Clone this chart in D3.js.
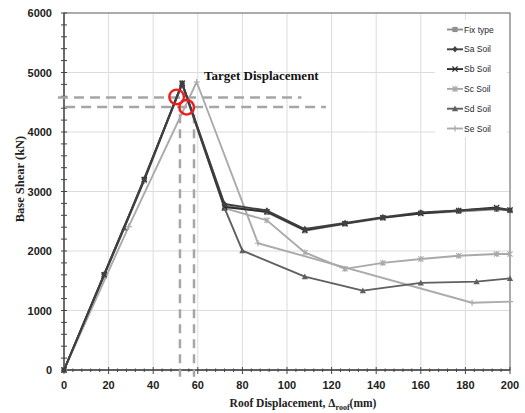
<!DOCTYPE html>
<html><head><meta charset="utf-8">
<script src="https://cdn.jsdelivr.net/npm/d3@7"></script>
<style>body{margin:0;background:#fff}svg{display:block}</style>
</head><body>
<svg id="c" width="525" height="413"></svg>
<script>
// ---- data ----
const seriesNames = ["Fix type","Sa Soil","Sb Soil","Sc Soil","Sd Soil","Se Soil"];
const fixType = [[0,0],[18,1600],[36,3200],[53,4820],[72,2760],[91,2650],[108,2340],[126,2455],[143,2555],[160,2635],[177,2665],[194,2700],[200,2680]];
const saSoil  = [[0,0],[18,1610],[36,3210],[53,4820],[72,2790],[91,2680],[108,2370],[126,2470],[143,2570],[160,2650],[177,2680],[194,2715],[200,2685]];
const sbSoil  = [[0,0],[18,1600],[36,3200],[53,4820],[72,2740],[91,2660],[108,2350],[126,2460],[143,2560],[160,2630],[177,2680],[194,2730],[200,2690]];
const scSoil  = [[0,0],[18,1580],[36,3180],[53,4810],[72,2720],[91,2515],[108,1975],[126,1700],[143,1800],[160,1865],[177,1920],[194,1950],[200,1950]];
const sdSoil  = [[0,0],[27,2390],[53,4800],[72,2720],[80,2005],[108,1570],[134,1335],[160,1465],[185,1485],[200,1540]];
const seSoil  = [[0,0],[29,2410],[59.5,4840],[87,2130],[183,1130],[200,1150]];
const xTicks = [0,20,40,60,80,100,120,140,160,180,200];
const yTicks = [0,1000,2000,3000,4000,5000,6000];
const targetShear = [4580,4420];
const targetDisp = [52,58.3];
const circlePts = [[50.5,4590],[55,4415]];

// ---- layout ----
const svg = d3.select("#c");
const x = d3.scaleLinear().domain([0,200]).range([64,510]);
const y = d3.scaleLinear().domain([0,6000]).range([370,13]);

const styles = [
  {data:fixType, color:"#8f8f8f", sym:"square"},
  {data:saSoil,  color:"#404040", sym:"diamond"},
  {data:sbSoil,  color:"#2e2e2e", sym:"cross"},
  {data:scSoil,  color:"#a9a9a9", sym:"aster"},
  {data:sdSoil,  color:"#606060", sym:"triangle"},
  {data:seSoil,  color:"#ababab", sym:"plus"}
];

// grid
svg.append("g").selectAll("line").data(xTicks.slice(1)).join("line")
  .attr("x1",d=>x(d)).attr("x2",d=>x(d)).attr("y1",y(0)).attr("y2",y(6000))
  .attr("stroke","#dcdcdc").attr("stroke-width",1);
svg.append("g").selectAll("line").data(yTicks.slice(1)).join("line")
  .attr("x1",x(0)).attr("x2",x(200)).attr("y1",d=>y(d)).attr("y2",d=>y(d))
  .attr("stroke","#dcdcdc").attr("stroke-width",1);

// frame
svg.append("rect").attr("x",x(0)).attr("y",y(6000)).attr("width",x(200)-x(0)).attr("height",y(0)-y(6000))
  .attr("fill","none").attr("stroke","#6a6a6a").attr("stroke-width",1);

// legend background (covers grid)
svg.append("rect").attr("x",435).attr("y",20).attr("width",72).attr("height",117).attr("fill","#fff");

// axes ticks
const yMinor = d3.range(0,6001,200);
svg.append("g").selectAll("line").data(yMinor).join("line")
  .attr("x1",x(0)-3).attr("x2",x(0)+3).attr("y1",d=>y(d)).attr("y2",d=>y(d))
  .attr("stroke","#444").attr("stroke-width",1);
const xMinor = d3.range(0,201,4);
svg.append("g").selectAll("line").data(xMinor).join("line")
  .attr("x1",d=>x(d)).attr("x2",d=>x(d)).attr("y1",d=>y(0)-(d%20===0?3:1.5)).attr("y2",d=>y(0)+(d%20===0?4:2))
  .attr("stroke","#444").attr("stroke-width",1);
svg.append("line").attr("x1",x(0)).attr("x2",x(0)).attr("y1",y(0)).attr("y2",y(6000)).attr("stroke","#444").attr("stroke-width",1.3);
svg.append("line").attr("x1",x(0)).attr("x2",x(200)).attr("y1",y(0)).attr("y2",y(0)).attr("stroke","#444").attr("stroke-width",1.3);

// tick labels
const tickFont = "'Liberation Sans', Arial, sans-serif";
svg.append("g").selectAll("text").data(yTicks).join("text")
  .attr("x",52).attr("y",d=>y(d)+4).attr("text-anchor","end")
  .attr("font-family",tickFont).attr("font-weight","bold").attr("font-size",11).attr("fill","#222")
  .text(d=>d);
svg.append("g").selectAll("text").data(xTicks).join("text")
  .attr("x",d=>x(d)).attr("y",389).attr("text-anchor","middle")
  .attr("font-family",tickFont).attr("font-weight","bold").attr("font-size",11).attr("fill","#222")
  .text(d=>d);

// axis titles
svg.append("text").attr("transform","translate(24,179) rotate(-90)").attr("text-anchor","middle")
  .attr("font-family","'Liberation Serif','Times New Roman',serif").attr("font-weight","bold").attr("font-size",12.5).attr("fill","#222")
  .text("Base Shear (kN)");
const xt = svg.append("text").attr("x",303).attr("y",407).attr("text-anchor","middle")
  .attr("font-family","'Liberation Serif','Times New Roman',serif").attr("font-weight","bold").attr("font-size",11.5).attr("fill","#222");
xt.append("tspan").text("Roof Displacement, \u0394");
xt.append("tspan").attr("font-size",8).attr("dy",3).text("roof");
xt.append("tspan").attr("dy",-3).text("(mm)");

// target dashed lines
const dash = "10,6";
svg.append("line").attr("x1",x(-2.7)).attr("x2",x(106.5)).attr("y1",y(targetShear[0])).attr("y2",y(targetShear[0]))
  .attr("stroke","#a6a6a6").attr("stroke-width",2.5).attr("stroke-dasharray",dash);
svg.append("line").attr("x1",x(0.5)).attr("x2",x(117.5)).attr("y1",y(targetShear[1])).attr("y2",y(targetShear[1]))
  .attr("stroke","#a6a6a6").attr("stroke-width",2.5).attr("stroke-dasharray",dash);
targetDisp.forEach(d=>{
  svg.append("line").attr("x1",x(d)).attr("x2",x(d)).attr("y1",y(4300)).attr("y2",y(-115))
    .attr("stroke","#a6a6a6").attr("stroke-width",2.5).attr("stroke-dasharray","9,6");
});

// markers
function marker(g, sym, cx, cy, color){
  const s = 2.6;
  if(sym==="square") g.append("rect").attr("x",cx-s).attr("y",cy-s).attr("width",2*s).attr("height",2*s).attr("fill",color);
  else if(sym==="diamond") g.append("path").attr("d",`M${cx},${cy-s-0.6}L${cx+s},${cy}L${cx},${cy+s+0.6}L${cx-s},${cy}Z`).attr("fill",color);
  else if(sym==="triangle") g.append("path").attr("d",`M${cx},${cy-s-0.5}L${cx+s+0.5},${cy+s}L${cx-s-0.5},${cy+s}Z`).attr("fill",color);
  else if(sym==="cross") g.append("path").attr("d",`M${cx-s},${cy-s}L${cx+s},${cy+s}M${cx-s},${cy+s}L${cx+s},${cy-s}`).attr("stroke",color).attr("stroke-width",1.2);
  else if(sym==="plus") g.append("path").attr("d",`M${cx-s-0.5},${cy}L${cx+s+0.5},${cy}M${cx},${cy-s-0.5}L${cx},${cy+s+0.5}`).attr("stroke",color).attr("stroke-width",1.2);
  else if(sym==="aster") g.append("path").attr("d",`M${cx-s},${cy-s}L${cx+s},${cy+s}M${cx-s},${cy+s}L${cx+s},${cy-s}M${cx},${cy-s-0.5}L${cx},${cy+s+0.5}`).attr("stroke",color).attr("stroke-width",1.1);
}

const line = d3.line().x(d=>x(d[0])).y(d=>y(d[1]));
const order = [5,3,4,0,2,1];
order.forEach(i=>{
  const st = styles[i];
  const g = svg.append("g");
  g.append("path").datum(st.data).attr("d",line).attr("fill","none").attr("stroke",st.color).attr("stroke-width",1.9).attr("stroke-linejoin","round");
  st.data.forEach(p=>marker(g, st.sym, x(p[0]), y(p[1]), st.color));
});

// red circles
svg.append("g").selectAll("circle").data(circlePts).join("circle")
  .attr("cx",d=>x(d[0])).attr("cy",d=>y(d[1])).attr("r",7.3)
  .attr("fill","none").attr("stroke","#ee1c1c").attr("stroke-width",2.4);

// annotation
svg.append("text").attr("x",204).attr("y",80)
  .attr("font-family","'Liberation Serif','Times New Roman',serif").attr("font-weight","bold").attr("font-size",13).attr("fill","#111")
  .text("Target Displacement");

// legend
const lg = svg.append("g");
seriesNames.forEach((n,i)=>{
  const st = styles[i];
  const ly = 29.5 + i*19.8;
  lg.append("line").attr("x1",447).attr("x2",463).attr("y1",ly).attr("y2",ly).attr("stroke",st.color).attr("stroke-width",1.9);
  marker(lg, st.sym, 455, ly, st.color);
  lg.append("text").attr("x",464).attr("y",ly+3).attr("font-family",tickFont).attr("font-size",8.5).attr("fill","#1f1f33").text(n);
});
</script>
</body></html>
